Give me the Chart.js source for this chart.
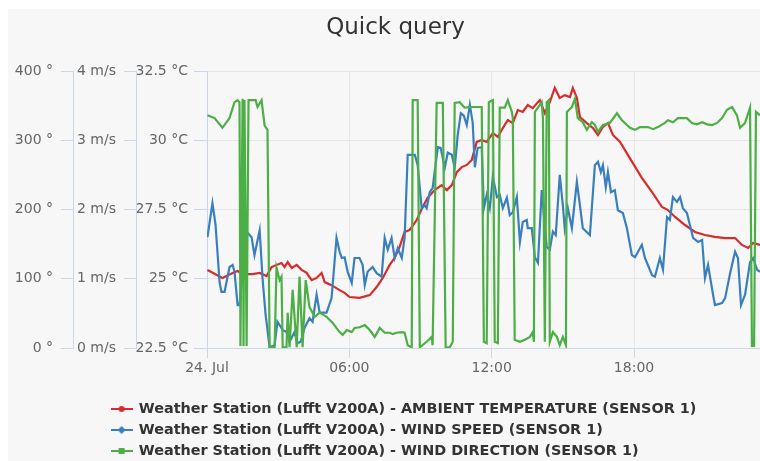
<!DOCTYPE html>
<html>
<head>
<meta charset="utf-8">
<script src="https://cdn.jsdelivr.net/npm/chart.js@4.4.1/dist/chart.umd.min.js"></script>
<style>
  body { margin: 0; background: #fff; }
  #wrap { position: absolute; left: 8px; top: 9px; width: 752px; height: 452px; background: #f7f7f7; }
</style>
</head>
<body>
<div id="wrap"><canvas id="quick" width="752" height="452"></canvas></div>
<script>
// hours since 24. Jul 00:00
const tempHours = [0.02,0.65,1.08,1.29,1.50,1.92,2.22,2.51,2.72,2.93,3.14,3.27,3.40,3.57,3.78,3.99,4.20,4.41,4.62,4.83,4.96,5.25,5.59,5.80,6.01,6.43,6.86,7.15,7.41,7.70,7.91,8.12,8.33,8.54,8.84,9.09,9.30,9.60,9.89,10.11,10.32,10.53,10.74,10.95,11.16,11.37,11.58,11.79,12.05,12.26,12.47,12.68,12.89,13.10,13.31,13.52,13.73,14.03,14.24,14.45,14.66,14.87,15.08,15.30,15.42,15.59,15.72,16.01,16.27,16.48,16.69,16.90,17.11,17.41,17.74,18.33,18.76,19.18,19.43,19.73,20.15,20.57,20.99,21.41,21.84,22.26,22.55,22.81,23.02,23.31];
const tempValues = [25.32,25.03,25.21,25.28,25.17,25.17,25.21,25.10,25.42,25.50,25.57,25.42,25.60,25.39,25.50,25.32,25.21,24.95,25.03,25.21,24.88,24.77,24.59,24.49,24.34,24.31,24.41,24.70,25.03,25.50,25.75,26.15,26.69,26.76,27.12,27.59,27.92,28.20,28.38,28.20,28.38,28.85,29.03,29.11,29.29,29.94,30.01,29.94,30.26,30.12,30.44,30.73,30.62,31.09,31.02,31.27,31.16,31.45,30.98,31.38,31.89,31.53,31.63,31.56,31.89,31.53,30.84,30.62,30.44,30.19,30.48,30.62,30.19,29.94,29.47,28.64,28.13,27.59,27.48,27.23,26.94,26.69,26.58,26.51,26.47,26.47,26.22,26.11,26.29,26.22];

const speedHours = [0.02,0.23,0.36,0.53,0.61,0.74,0.95,1.08,1.16,1.29,1.37,1.67,1.88,2.00,2.22,2.34,2.47,2.64,2.85,2.97,3.19,3.35,3.48,3.69,3.82,3.95,4.11,4.32,4.45,4.62,4.75,5.04,5.25,5.46,5.59,5.68,5.80,5.93,6.10,6.22,6.43,6.56,6.65,6.77,6.98,7.15,7.36,7.49,7.62,7.78,7.91,8.04,8.21,8.33,8.46,8.63,8.76,8.88,9.05,9.18,9.26,9.39,9.51,9.73,9.85,10.02,10.15,10.32,10.44,10.57,10.70,10.82,10.95,11.08,11.20,11.29,11.41,11.58,11.67,11.79,11.92,12.05,12.22,12.34,12.47,12.64,12.76,12.89,13.06,13.19,13.31,13.48,13.52,13.69,13.82,13.95,14.11,14.20,14.32,14.45,14.58,14.70,14.87,15.00,15.08,15.21,15.38,15.59,15.72,15.84,16.14,16.35,16.48,16.60,16.69,16.81,16.90,17.03,17.19,17.32,17.53,17.70,17.91,18.04,18.17,18.33,18.46,18.76,18.88,19.09,19.22,19.39,19.51,19.64,19.81,19.94,20.06,20.23,20.49,20.70,20.87,20.99,21.12,21.33,21.41,21.71,21.84,22.05,22.26,22.38,22.51,22.68,22.89,23.02,23.19,23.31];
const speedValues = [1.60,2.09,1.78,0.95,0.81,0.81,1.17,1.20,1.10,0.62,0.62,1.68,1.60,1.34,1.70,1.01,0.48,0.01,0.04,0.38,0.26,0.23,0.09,0.23,0.07,0.09,0.29,0.43,0.38,0.77,0.51,0.51,0.72,1.59,1.39,1.30,1.31,1.10,0.94,1.30,1.30,1.20,0.91,1.10,1.17,1.08,1.03,1.59,1.42,1.59,1.30,1.44,1.30,1.59,2.79,2.79,2.79,2.64,2.02,2.06,2.02,2.25,2.31,2.90,2.89,2.60,2.82,2.79,2.60,3.08,3.39,3.36,3.22,3.51,3.25,2.61,2.89,2.90,2.02,2.21,2.02,2.47,2.18,2.21,2.02,2.17,1.92,1.96,2.18,1.53,1.82,1.85,1.73,1.73,1.31,1.23,2.28,1.92,1.46,1.42,1.68,1.63,2.50,2.06,1.73,2.02,1.73,2.40,2.06,1.73,1.63,2.64,2.69,2.54,2.64,2.32,2.54,2.25,2.28,1.99,1.95,1.73,1.34,1.31,1.39,1.49,1.30,1.05,1.03,1.30,1.13,1.89,1.85,2.18,2.11,2.18,2.02,1.95,1.59,1.53,1.56,1.01,1.20,0.77,0.62,0.65,0.72,1.08,1.39,1.30,0.62,0.77,1.24,1.30,1.13,1.10];

const dirHours = [0.02,0.32,0.65,0.95,1.16,1.29,1.37,1.41,1.50,1.54,1.58,1.67,1.75,2.05,2.13,2.30,2.43,2.55,2.64,2.85,2.93,3.06,3.14,3.19,3.35,3.40,3.48,3.61,3.78,3.90,4.03,4.16,4.32,4.54,4.75,5.04,5.30,5.59,5.72,5.89,6.10,6.22,6.43,6.65,6.86,7.07,7.28,7.49,7.70,7.83,7.99,8.21,8.33,8.46,8.63,8.67,8.88,8.97,9.26,9.47,9.51,9.68,9.94,10.06,10.23,10.36,10.44,10.65,10.86,11.16,11.41,11.58,11.67,11.79,11.88,12.05,12.13,12.26,12.34,12.55,12.68,12.85,12.89,12.97,13.19,13.40,13.61,13.73,13.78,13.82,13.95,14.11,14.16,14.24,14.32,14.41,14.45,14.58,14.75,14.87,15.00,15.13,15.17,15.38,15.51,15.63,15.84,16.01,16.22,16.35,16.48,16.69,16.98,17.28,17.49,17.70,17.83,18.04,18.25,18.59,18.80,19.01,19.30,19.43,19.64,19.85,20.06,20.23,20.44,20.65,20.87,21.08,21.29,21.50,21.71,21.92,22.13,22.34,22.47,22.68,22.89,22.97,23.06,23.14,23.31];
const dirValues = [336,332,318,332,355,358,355,3,360,3,358,3,358,358,348,358,321,315,1,1,116,98,103,1,1,51,1,84,1,103,1,98,59,45,51,45,36,23,19,26,23,29,30,33,26,16,29,22,22,20,22,23,22,4,1,358,358,1,9,16,4,354,354,1,1,9,354,355,347,348,348,348,9,7,355,358,9,7,347,347,358,341,332,12,9,12,16,23,9,341,347,355,332,9,355,358,9,23,16,4,16,4,341,348,360,332,326,315,326,322,312,322,325,339,329,322,318,315,319,319,316,319,325,329,326,332,332,332,325,323,326,323,322,325,332,344,348,336,318,325,347,3,3,341,336];

const seriesNames = [
  'Weather Station (Lufft V200A) - AMBIENT TEMPERATURE (SENSOR 1)',
  'Weather Station (Lufft V200A) - WIND SPEED (SENSOR 1)',
  'Weather Station (Lufft V200A) - WIND DIRECTION (SENSOR 1)'
];
const colors = ['#d92b2b', '#3a7fbd', '#4caf46'];

function toPoints(hours, values) {
  return hours.map((h, i) => ({ x: h, y: values[i] }));
}

// little line+marker icons for the legend
function legendIcon(color, shape) {
  const c = document.createElement('canvas');
  c.width = 22; c.height = 10;
  const g = c.getContext('2d');
  g.strokeStyle = color; g.lineWidth = 2;
  g.beginPath(); g.moveTo(0, 5); g.lineTo(22, 5); g.stroke();
  g.fillStyle = color;
  g.beginPath();
  if (shape === 'circle') {
    g.arc(11, 5, 3, 0, Math.PI * 2);
  } else if (shape === 'diamond') {
    g.moveTo(11, 1); g.lineTo(15, 5); g.lineTo(11, 9); g.lineTo(7, 5); g.closePath();
  } else {
    g.rect(8, 2, 6, 6);
  }
  g.fill();
  return c;
}
const icons = [legendIcon(colors[0], 'circle'), legendIcon(colors[1], 'diamond'), legendIcon(colors[2], 'square')];

const axisColor = '#ccd6eb';
const gridColor = '#e6e6e6';
const tickFont = { family: 'DejaVu Sans', size: 14 };

function leftAxis(min, max, step, unit, width, weight, tickLen, pad, grid) {
  return {
    type: 'linear',
    position: 'left',
    weight: weight,
    min: min, max: max,
    afterFit: (s) => { s.width = width; },
    border: { color: axisColor, width: 1 },
    grid: { drawOnChartArea: grid, color: gridColor, tickColor: axisColor, tickLength: tickLen },
    ticks: {
      stepSize: step, padding: pad, color: '#666', font: tickFont,
      callback: (v) => v + ' ' + unit
    }
  };
}

const nudge = {
  id: 'nudge',
  afterLayout(chart) {
    chart.legend.left = 97;
    chart.legend.top = 386.2;
    chart.titleBlock.left = 23;
  }
};

const legendDefaults = Chart.defaults.plugins.legend.labels.generateLabels;

new Chart(document.getElementById('quick'), {
  type: 'line',
  data: {
    datasets: [
      { label: seriesNames[0], data: toPoints(tempHours, tempValues), yAxisID: 'yTemp', borderColor: colors[0], backgroundColor: colors[0], borderWidth: 2.2, pointRadius: 0, tension: 0, order: 3 },
      { label: seriesNames[1], data: toPoints(speedHours, speedValues), yAxisID: 'ySpeed', borderColor: colors[1], backgroundColor: colors[1], borderWidth: 2.2, pointRadius: 0, tension: 0, order: 2 },
      { label: seriesNames[2], data: toPoints(dirHours, dirValues), yAxisID: 'yDir', borderColor: colors[2], backgroundColor: colors[2], borderWidth: 2.2, pointRadius: 0, tension: 0, order: 1 }
    ]
  },
  options: {
    responsive: false,
    animation: false,
    layout: { padding: 0 },
    plugins: {
      title: {
        display: true,
        text: 'Quick query',
        color: '#333',
        font: { family: 'DejaVu Sans', size: 23, weight: 'normal' },
        padding: { top: 5.2, bottom: 29.2 }
      },
      legend: {
        position: 'bottom',
        align: 'start',
        labels: {
          usePointStyle: true,
          pointStyleWidth: 20,
          padding: 6.6,
          color: '#333',
          font: { family: 'DejaVu Sans', size: 14.4, weight: 'bold' },
          sort: (a, b) => a.datasetIndex - b.datasetIndex,
          generateLabels: (chart) => legendDefaults(chart).map((item) => {
            item.pointStyle = icons[item.datasetIndex];
            return item;
          })
        }
      },
      tooltip: { enabled: false }
    },
    scales: {
      x: {
        type: 'linear',
        min: 0, max: 23.31,
        afterFit: (s) => { s.height = 40; },
        border: { color: axisColor, width: 1 },
        grid: { color: gridColor, tickColor: axisColor, tickLength: 10 },
        ticks: {
          stepSize: 6, includeBounds: false, padding: 2, color: '#666', font: tickFont, maxRotation: 0,
          callback: (v) => v === 0 ? '24. Jul' : String(v).padStart(2, '0') + ':00'
        }
      },
      yTemp: leftAxis(22.5, 32.5, 2.5, '°C', 71, 1, 13, 6, true),
      ySpeed: leftAxis(0, 4, 1, 'm/s', 63, 2, 12, 8, false),
      yDir: leftAxis(0, 400, 100, '°', 65, 3, 12, 8, false)
    }
  },
  plugins: [nudge]
});
</script>
</body>
</html>
